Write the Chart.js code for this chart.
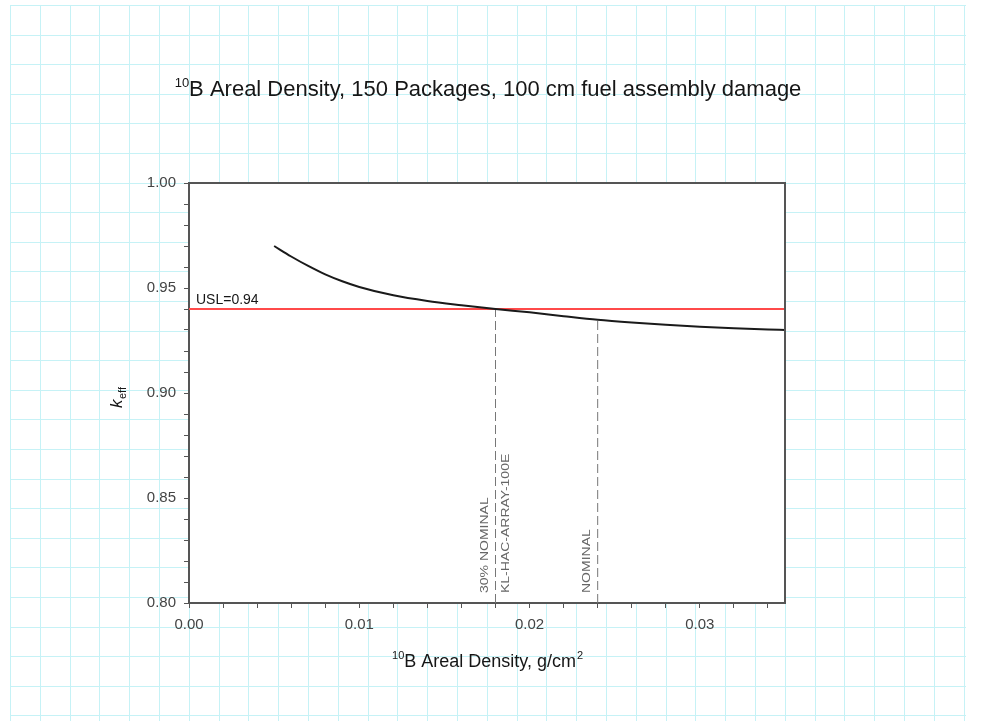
<!DOCTYPE html>
<html>
<head>
<meta charset="utf-8">
<script src="https://cdn.jsdelivr.net/npm/chart.js@4.4.1/dist/chart.umd.min.js"></script>
<style>
  html, body { margin: 0; padding: 0; background: #fff; }
  #wrap { width: 982px; height: 721px; position: relative; }
</style>
</head>
<body>
<div id="wrap"><canvas id="arealChart"></canvas></div>
<script>
// 10B areal density sweep, 150 packages, 100 cm fuel assembly damage
const densities  = [0.005, 0.006, 0.007, 0.008, 0.009, 0.010, 0.012, 0.014, 0.016, 0.018, 0.020, 0.022, 0.024, 0.026, 0.028, 0.030, 0.032, 0.034, 0.035];
const keffValues = [0.970, 0.965, 0.9605, 0.9565, 0.9532, 0.9505, 0.9465, 0.9438, 0.9418, 0.9400, 0.9384, 0.9366, 0.9349, 0.9336, 0.9325, 0.9316, 0.9308, 0.9302, 0.9300];

const uslValue = 0.94;
const uslRange = [0, 0.035];
const markerDensities = [0.018, 0.024];
const markerKeffs = [0.940, 0.9349];
const markerLabels = [['30% NOMINAL', 'KL-HAC-ARRAY-100E'], ['NOMINAL']];

const xMajorTicks = [0.00, 0.01, 0.02, 0.03];
const xTickLabels = ['0.00', '0.01', '0.02', '0.03'];
const yMajorTicks = [0.80, 0.85, 0.90, 0.95, 1.00];
const yTickLabels = ['0.80', '0.85', '0.90', '0.95', '1.00'];
const xMinorStep = 0.002;
const yMinorStep = 0.01;

const FONT = '"Liberation Sans", Arial, Helvetica, sans-serif';

function stepTicks(min, max, step) {
    const out = [];
    const n = Math.round((max - min) / step);
    for (let i = 0; i <= n; i++) out.push({ value: +(min + i * step).toFixed(4) });
    return out;
}
function majorLabel(v, majors, labels) {
    const i = majors.findIndex(m => Math.abs(m - v) < 1e-6);
    return i >= 0 ? labels[i] : '';
}
// centred text with a leading superscript, e.g. 10B
function supText(ctx, sup, main, cx, y, size) {
    ctx.font = Math.round(size * 0.6) + 'px ' + FONT;
    const ws = ctx.measureText(sup).width;
    ctx.font = size + 'px ' + FONT;
    const wm = ctx.measureText(main).width;
    const x0 = cx - (ws + wm) / 2;
    ctx.textAlign = 'left';
    ctx.fillText(main, x0 + ws, y);
    ctx.font = Math.round(size * 0.6) + 'px ' + FONT;
    ctx.fillText(sup, x0, y - size * 0.42);
    return x0 + ws + wm;
}

// grid paper behind the plot
const paperPlugin = {
    id: 'paper',
    beforeDraw(chart) {
        const { ctx, chartArea: a } = chart;
        ctx.save();
        ctx.fillStyle = '#fff';
        ctx.fillRect(0, 0, chart.width, chart.height);
        ctx.strokeStyle = '#c6f2f6';
        ctx.lineWidth = 1;
        for (let x = 10; x <= 966; x += 29.8) {
            ctx.beginPath(); ctx.moveTo(Math.round(x) + 0.5, 5); ctx.lineTo(Math.round(x) + 0.5, chart.height); ctx.stroke();
        }
        for (let y = 5; y <= chart.height; y += 29.6) {
            ctx.beginPath(); ctx.moveTo(10, Math.round(y) + 0.5); ctx.lineTo(966, Math.round(y) + 0.5); ctx.stroke();
        }
        ctx.fillStyle = '#fff';
        ctx.fillRect(a.left, a.top, a.right - a.left, a.bottom - a.top);
        ctx.restore();
    }
};

// titles, frame and annotations
const textPlugin = {
    id: 'texts',
    afterDraw(chart) {
        const { ctx, chartArea: a, scales } = chart;
        ctx.save();
        // frame top + right
        ctx.strokeStyle = '#555';
        ctx.lineWidth = 2;
        ctx.beginPath();
        ctx.moveTo(a.left, a.top); ctx.lineTo(a.right, a.top); ctx.lineTo(a.right, a.bottom);
        ctx.stroke();

        ctx.fillStyle = '#161616';
        ctx.textBaseline = 'alphabetic';
        supText(ctx, '10', 'B Areal Density, 150 Packages, 100 cm fuel assembly damage', 488, 96, 22);

        // x title with cm^2
        const end = supText(ctx, '10', 'B Areal Density, g/cm', 484, 667, 18);
        ctx.font = '11px ' + FONT;
        ctx.fillText('2', end + 1, 667 - 8);

        // y title k_eff
        ctx.save();
        ctx.translate(122, 398);
        ctx.rotate(-Math.PI / 2);
        ctx.textAlign = 'left';
        ctx.font = 'italic 17px ' + FONT;
        ctx.fillText('k', -10, 0);
        ctx.font = '11px ' + FONT;
        ctx.fillText('eff', -1, 4);
        ctx.restore();

        // USL label
        ctx.font = '14px ' + FONT;
        ctx.textAlign = 'left';
        ctx.fillText('USL=' + uslValue.toFixed(2), a.left + 7, scales.y.getPixelForValue(uslValue) - 5);

        // rotated marker labels
        ctx.font = '14px ' + FONT;
        ctx.fillStyle = '#666';
        markerDensities.forEach((d, i) => {
            const px = scales.x.getPixelForValue(d);
            const labels = markerLabels[i];
            const offsets = labels.length === 2 ? [-11, 10] : [-11];
            labels.forEach((t, j) => {
                ctx.save();
                ctx.translate(px + offsets[j], a.bottom - 10);
                ctx.rotate(-Math.PI / 2);
                ctx.scale(1, 0.8);
                ctx.textBaseline = 'middle';
                ctx.fillText(t, 0, 0);
                ctx.restore();
            });
        });
        ctx.restore();
    }
};

const datasets = [
    {
        label: 'keff',
        data: densities.map((d, i) => ({ x: d, y: keffValues[i] })),
        borderColor: '#1a1a1a', borderWidth: 2, pointRadius: 0,
        showLine: true, cubicInterpolationMode: 'monotone'
    },
    {
        label: 'USL',
        data: uslRange.map(d => ({ x: d, y: uslValue })),
        borderColor: '#ff4a4a', borderWidth: 2, pointRadius: 0, showLine: true
    }
];
markerDensities.forEach((d, i) => {
    datasets.push({
        label: 'marker' + i,
        data: [{ x: d, y: 0.80 }, { x: d, y: markerKeffs[i] }],
        borderColor: '#777', borderWidth: 1, borderDash: [9, 4], pointRadius: 0, showLine: true
    });
});

new Chart(document.getElementById('arealChart').getContext('2d'), {
    type: 'scatter',
    data: { datasets },
    options: {
        responsive: true, maintainAspectRatio: false, animation: false,
        layout: { padding: { left: 129, right: 197, top: 183, bottom: 88 } },
        plugins: { legend: { display: false }, tooltip: { enabled: false }, title: { display: false } },
        scales: {
            x: {
                type: 'linear', min: 0, max: 0.035,
                afterBuildTicks: s => { s.ticks = stepTicks(0, 0.034, xMinorStep); },
                afterFit: s => { s.height = 30; },
                grid: { drawOnChartArea: false, drawTicks: true, tickLength: 5, color: '#555' },
                border: { color: '#555', width: 2 },
                ticks: {
                    autoSkip: false, maxRotation: 0, padding: 8, color: '#444',
                    font: { family: FONT, size: 15 },
                    callback: v => majorLabel(v, xMajorTicks, xTickLabels)
                }
            },
            y: {
                type: 'linear', min: 0.80, max: 1.00,
                afterBuildTicks: s => { s.ticks = stepTicks(0.80, 1.00, yMinorStep); },
                afterFit: s => { s.width = 60; },
                grid: { drawOnChartArea: false, drawTicks: true, tickLength: 5, color: '#555' },
                border: { color: '#555', width: 2 },
                ticks: {
                    autoSkip: false, padding: 8, color: '#444',
                    font: { family: FONT, size: 15 },
                    callback: v => majorLabel(v, yMajorTicks, yTickLabels)
                }
            }
        }
    },
    plugins: [paperPlugin, textPlugin]
});
</script>
</body>
</html>
